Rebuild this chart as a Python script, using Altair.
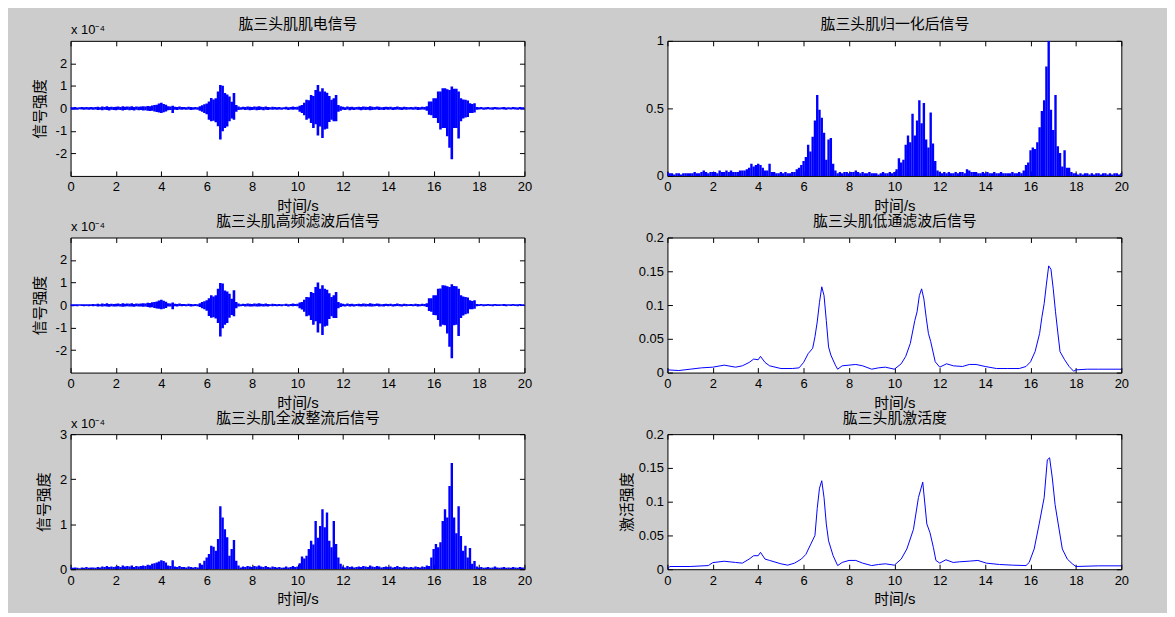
import altair as alt
import pandas as pd

# ---------------- data ----------------
# sample times of the dense EMG traces, one sample every 0.1 s from 0 to 20 s
T = [round(0.1 * i, 1) for i in range(201)]

# panel 1: raw EMG, upper / lower envelope per 0.1 s (x 1e-4)
RAW_HI = [
    0.06, 0.05, 0.06, 0.04, 0.05, 0.06, 0.05, 0.06, 0.05, 0.06,
    0.05, 0.06, 0.07, 0.05, 0.08, 0.06, 0.09, 0.06, 0.07, 0.06,
    0.07, 0.08, 0.06, 0.09, 0.07, 0.08, 0.07, 0.09, 0.06, 0.08,
    0.07, 0.08, 0.09, 0.08, 0.11, 0.10, 0.13, 0.15, 0.16, 0.22,
    0.25, 0.20, 0.16, 0.09, 0.08, 0.12, 0.07, 0.06, 0.08, 0.06,
    0.06, 0.05, 0.07, 0.06, 0.05, 0.06, 0.05, 0.09, 0.14, 0.18,
    0.22, 0.31, 0.46, 0.40, 0.45, 0.75, 1.04, 1.01, 0.68, 0.62,
    0.53, 0.30, 0.68, 0.15, 0.08, 0.05, 0.07, 0.06, 0.08, 0.07,
    0.06, 0.08, 0.07, 0.09, 0.07, 0.06, 0.08, 0.06, 0.05, 0.07,
    0.06, 0.05, 0.06, 0.04, 0.05, 0.07, 0.05, 0.06, 0.08, 0.06,
    0.07, 0.12, 0.15, 0.25, 0.38, 0.36, 0.60, 0.55, 0.82, 1.04,
    0.75, 0.90, 0.75, 0.70, 0.55, 0.38, 0.45, 0.60, 0.15, 0.10,
    0.07, 0.05, 0.08, 0.06, 0.07, 0.05, 0.06, 0.07, 0.06, 0.08,
    0.07, 0.06, 0.09, 0.07, 0.06, 0.08, 0.07, 0.05, 0.06, 0.07,
    0.06, 0.07, 0.05, 0.06, 0.08, 0.06, 0.05, 0.07, 0.06, 0.05,
    0.06, 0.05, 0.07, 0.06, 0.05, 0.07, 0.06, 0.09, 0.31, 0.31,
    0.45, 0.45, 0.75, 0.75, 0.90, 0.90, 0.85, 0.82, 0.97, 0.87,
    0.87, 0.75, 0.45, 0.40, 0.38, 0.35, 0.23, 0.20, 0.23, 0.06,
    0.05, 0.06, 0.04, 0.05, 0.06, 0.04, 0.05, 0.06, 0.05, 0.04,
    0.05, 0.06, 0.04, 0.05, 0.04, 0.06, 0.05, 0.04, 0.06, 0.05,
    0.05,
]
RAW_LO = [
    -0.05, -0.06, -0.05, -0.06, -0.04, -0.05, -0.06, -0.05, -0.06, -0.05,
    -0.06, -0.05, -0.07, -0.06, -0.08, -0.06, -0.07, -0.09, -0.06, -0.07,
    -0.08, -0.06, -0.07, -0.09, -0.07, -0.06, -0.08, -0.07, -0.09, -0.06,
    -0.08, -0.07, -0.09, -0.08, -0.10, -0.12, -0.11, -0.14, -0.16, -0.18,
    -0.20, -0.17, -0.14, -0.08, -0.07, -0.20, -0.06, -0.07, -0.05, -0.06,
    -0.05, -0.06, -0.05, -0.07, -0.06, -0.05, -0.06, -0.10, -0.15, -0.20,
    -0.26, -0.50, -0.57, -0.55, -0.62, -0.79, -1.38, -1.01, -0.87, -0.80,
    -0.57, -0.45, -0.50, -0.15, -0.07, -0.06, -0.05, -0.07, -0.06, -0.08,
    -0.07, -0.06, -0.08, -0.07, -0.06, -0.08, -0.06, -0.07, -0.05, -0.06,
    -0.05, -0.06, -0.05, -0.06, -0.04, -0.05, -0.07, -0.05, -0.06, -0.05,
    -0.06, -0.15, -0.20, -0.30, -0.50, -0.45, -0.65, -0.87, -0.70, -1.20,
    -0.80, -1.31, -0.94, -0.90, -0.60, -0.50, -0.57, -0.57, -0.15, -0.10,
    -0.06, -0.07, -0.05, -0.08, -0.06, -0.07, -0.05, -0.06, -0.08, -0.06,
    -0.07, -0.06, -0.08, -0.07, -0.06, -0.05, -0.07, -0.06, -0.07, -0.05,
    -0.06, -0.05, -0.07, -0.06, -0.05, -0.06, -0.07, -0.05, -0.06, -0.05,
    -0.05, -0.06, -0.05, -0.07, -0.06, -0.05, -0.06, -0.10, -0.28, -0.30,
    -0.43, -0.43, -0.65, -0.94, -0.87, -0.87, -1.24, -1.75, -2.26, -0.87,
    -0.87, -1.34, -0.57, -0.45, -0.40, -0.38, -0.20, -0.20, -0.18, -0.06,
    -0.05, -0.04, -0.06, -0.05, -0.04, -0.05, -0.06, -0.04, -0.05, -0.05,
    -0.04, -0.05, -0.06, -0.04, -0.05, -0.04, -0.05, -0.06, -0.04, -0.05,
    -0.05,
]

# panel 2: high-pass filtered EMG, upper / lower envelope (x 1e-4)
HP_HI = [
    0.04, 0.03, 0.04, 0.03, 0.04, 0.03, 0.04, 0.03, 0.04, 0.04,
    0.05, 0.04, 0.06, 0.04, 0.07, 0.05, 0.08, 0.05, 0.06, 0.05,
    0.06, 0.07, 0.05, 0.08, 0.06, 0.07, 0.06, 0.08, 0.05, 0.07,
    0.06, 0.07, 0.08, 0.07, 0.10, 0.09, 0.12, 0.14, 0.16, 0.20,
    0.23, 0.19, 0.15, 0.08, 0.07, 0.11, 0.06, 0.05, 0.07, 0.05,
    0.05, 0.04, 0.06, 0.05, 0.04, 0.05, 0.04, 0.08, 0.13, 0.17,
    0.21, 0.30, 0.44, 0.38, 0.43, 0.72, 0.98, 0.96, 0.65, 0.60,
    0.50, 0.28, 0.66, 0.13, 0.07, 0.04, 0.06, 0.05, 0.07, 0.06,
    0.05, 0.07, 0.06, 0.08, 0.06, 0.05, 0.07, 0.05, 0.04, 0.06,
    0.05, 0.04, 0.05, 0.03, 0.04, 0.06, 0.04, 0.05, 0.07, 0.05,
    0.06, 0.11, 0.14, 0.24, 0.36, 0.35, 0.58, 0.53, 0.80, 1.00,
    0.72, 0.88, 0.72, 0.68, 0.52, 0.36, 0.43, 0.58, 0.14, 0.08,
    0.06, 0.04, 0.07, 0.05, 0.06, 0.04, 0.05, 0.06, 0.05, 0.07,
    0.06, 0.05, 0.08, 0.06, 0.05, 0.07, 0.06, 0.04, 0.05, 0.06,
    0.05, 0.06, 0.04, 0.05, 0.07, 0.05, 0.04, 0.06, 0.05, 0.04,
    0.05, 0.04, 0.06, 0.05, 0.04, 0.06, 0.05, 0.08, 0.30, 0.30,
    0.43, 0.44, 0.72, 0.73, 0.88, 0.87, 0.83, 0.80, 0.92, 0.85,
    0.84, 0.72, 0.43, 0.38, 0.36, 0.33, 0.21, 0.18, 0.21, 0.05,
    0.04, 0.05, 0.03, 0.04, 0.05, 0.03, 0.04, 0.05, 0.04, 0.03,
    0.04, 0.05, 0.03, 0.04, 0.03, 0.05, 0.04, 0.03, 0.05, 0.04,
    0.04,
]
HP_LO = [
    -0.04, -0.05, -0.04, -0.05, -0.03, -0.04, -0.05, -0.04, -0.05, -0.04,
    -0.05, -0.04, -0.06, -0.05, -0.07, -0.05, -0.06, -0.08, -0.05, -0.06,
    -0.07, -0.05, -0.06, -0.08, -0.06, -0.05, -0.07, -0.06, -0.08, -0.05,
    -0.07, -0.06, -0.08, -0.07, -0.09, -0.11, -0.10, -0.13, -0.15, -0.17,
    -0.19, -0.16, -0.13, -0.07, -0.06, -0.19, -0.05, -0.06, -0.04, -0.05,
    -0.04, -0.05, -0.04, -0.06, -0.05, -0.04, -0.05, -0.09, -0.14, -0.19,
    -0.25, -0.49, -0.56, -0.54, -0.60, -0.80, -1.40, -1.03, -0.88, -0.80,
    -0.56, -0.44, -0.50, -0.14, -0.06, -0.05, -0.04, -0.06, -0.05, -0.07,
    -0.06, -0.05, -0.07, -0.06, -0.05, -0.07, -0.05, -0.06, -0.04, -0.05,
    -0.04, -0.05, -0.04, -0.05, -0.03, -0.04, -0.06, -0.04, -0.05, -0.04,
    -0.05, -0.14, -0.20, -0.30, -0.50, -0.46, -0.66, -0.88, -0.72, -1.22,
    -0.82, -1.33, -0.95, -0.92, -0.62, -0.50, -0.58, -0.58, -0.14, -0.09,
    -0.05, -0.06, -0.04, -0.07, -0.05, -0.06, -0.04, -0.05, -0.07, -0.05,
    -0.06, -0.05, -0.07, -0.06, -0.05, -0.04, -0.06, -0.05, -0.06, -0.04,
    -0.05, -0.04, -0.06, -0.05, -0.04, -0.05, -0.06, -0.04, -0.05, -0.04,
    -0.04, -0.05, -0.04, -0.06, -0.05, -0.04, -0.05, -0.09, -0.27, -0.30,
    -0.44, -0.45, -0.66, -0.95, -0.88, -0.90, -1.26, -1.85, -2.36, -0.90,
    -0.88, -1.38, -0.58, -0.46, -0.41, -0.38, -0.19, -0.19, -0.17, -0.05,
    -0.04, -0.03, -0.05, -0.04, -0.03, -0.04, -0.05, -0.03, -0.04, -0.04,
    -0.03, -0.04, -0.05, -0.03, -0.04, -0.03, -0.04, -0.05, -0.03, -0.04,
    -0.04,
]

# panel 3: full-wave rectified EMG (x 1e-4)
RECT = [
    0.05, 0.03, 0.04, 0.03, 0.02, 0.04, 0.03, 0.05, 0.03, 0.04,
    0.04, 0.03, 0.05, 0.04, 0.06, 0.05, 0.07, 0.05, 0.06, 0.05,
    0.06, 0.07, 0.05, 0.08, 0.06, 0.07, 0.06, 0.08, 0.05, 0.07,
    0.06, 0.07, 0.08, 0.07, 0.10, 0.09, 0.12, 0.13, 0.15, 0.17,
    0.20, 0.18, 0.15, 0.08, 0.07, 0.20, 0.06, 0.05, 0.07, 0.05,
    0.05, 0.04, 0.06, 0.05, 0.04, 0.05, 0.04, 0.13, 0.10, 0.19,
    0.26, 0.34, 0.52, 0.50, 0.41, 0.67, 1.40, 1.15, 0.89, 0.71,
    0.30, 0.45, 0.65, 0.19, 0.08, 0.04, 0.06, 0.05, 0.07, 0.06,
    0.05, 0.07, 0.06, 0.08, 0.06, 0.05, 0.07, 0.05, 0.04, 0.06,
    0.05, 0.04, 0.05, 0.03, 0.04, 0.06, 0.04, 0.05, 0.07, 0.05,
    0.06, 0.13, 0.28, 0.24, 0.30, 0.45, 0.63, 0.55, 1.07, 0.70,
    0.96, 1.33, 0.93, 1.26, 0.63, 0.49, 1.07, 0.56, 0.26, 0.12,
    0.06, 0.04, 0.07, 0.05, 0.06, 0.04, 0.05, 0.06, 0.05, 0.07,
    0.06, 0.05, 0.08, 0.06, 0.05, 0.07, 0.06, 0.04, 0.05, 0.06,
    0.05, 0.06, 0.04, 0.05, 0.07, 0.05, 0.04, 0.06, 0.05, 0.04,
    0.05, 0.04, 0.06, 0.05, 0.04, 0.06, 0.05, 0.08, 0.07, 0.26,
    0.45, 0.56, 0.49, 0.60, 1.07, 1.33, 1.15, 1.85, 2.36, 1.15,
    0.80, 1.40, 0.74, 0.41, 0.52, 0.26, 0.47, 0.12, 0.18, 0.06,
    0.04, 0.05, 0.03, 0.04, 0.05, 0.03, 0.04, 0.06, 0.04, 0.03,
    0.04, 0.05, 0.03, 0.04, 0.03, 0.05, 0.04, 0.03, 0.05, 0.04,
    0.04,
]

# panel 4: normalised rectified EMG
NORM = [
    0.03, 0.02, 0.02, 0.01, 0.02, 0.02, 0.01, 0.02, 0.02, 0.02,
    0.02, 0.02, 0.03, 0.02, 0.02, 0.03, 0.04, 0.03, 0.02, 0.03,
    0.03, 0.03, 0.02, 0.04, 0.03, 0.03, 0.04, 0.03, 0.04, 0.03,
    0.03, 0.03, 0.04, 0.04, 0.04, 0.05, 0.06, 0.09, 0.07, 0.08,
    0.09, 0.08, 0.06, 0.04, 0.04, 0.09, 0.03, 0.03, 0.02, 0.02,
    0.03, 0.02, 0.03, 0.02, 0.02, 0.03, 0.03, 0.05, 0.06, 0.08,
    0.11, 0.14, 0.23, 0.18, 0.29, 0.41, 0.60, 0.49, 0.43, 0.32,
    0.12, 0.27, 0.28, 0.09, 0.04, 0.02, 0.03, 0.02, 0.03, 0.03,
    0.02, 0.03, 0.03, 0.04, 0.03, 0.02, 0.03, 0.02, 0.02, 0.03,
    0.02, 0.02, 0.02, 0.01, 0.02, 0.03, 0.02, 0.02, 0.03, 0.02,
    0.03, 0.05, 0.13, 0.10, 0.12, 0.23, 0.30, 0.25, 0.46, 0.30,
    0.41, 0.56, 0.39, 0.54, 0.27, 0.21, 0.47, 0.24, 0.11, 0.04,
    0.03, 0.02, 0.03, 0.02, 0.03, 0.02, 0.02, 0.03, 0.02, 0.03,
    0.03, 0.02, 0.05, 0.04, 0.03, 0.03, 0.03, 0.02, 0.02, 0.03,
    0.02, 0.03, 0.02, 0.02, 0.03, 0.02, 0.02, 0.03, 0.02, 0.02,
    0.02, 0.02, 0.03, 0.02, 0.02, 0.03, 0.02, 0.04, 0.08, 0.10,
    0.19, 0.21, 0.20, 0.25, 0.36, 0.48, 0.56, 0.81, 1.00, 0.49,
    0.34, 0.60, 0.22, 0.17, 0.07, 0.19, 0.06, 0.06, 0.03, 0.02,
    0.02, 0.01, 0.02, 0.01, 0.02, 0.02, 0.01, 0.02, 0.01, 0.02,
    0.02, 0.01, 0.02, 0.02, 0.01, 0.02, 0.01, 0.02, 0.02, 0.01,
    0.02,
]

# panel 5: low-pass filtered envelope
LP_T = [0, 0.5, 1, 1.5, 2, 2.5, 3, 3.3, 3.6, 3.8, 4.0, 4.1, 4.3, 4.5, 5.0, 5.5, 5.8,
        6.0, 6.2, 6.4, 6.5, 6.6, 6.7, 6.8, 6.9, 7.0, 7.1, 7.2, 7.4, 7.5, 7.7, 8.0,
        8.3, 8.6, 9.0, 9.3, 9.6, 10.0, 10.3, 10.5, 10.7, 10.9, 11.0, 11.1, 11.2,
        11.3, 11.4, 11.5, 11.6, 11.8, 12.0, 12.3, 12.6, 13.0, 13.3, 13.6, 14.0,
        14.5, 15.0, 15.5, 15.8, 16.0, 16.2, 16.4, 16.5, 16.6, 16.7, 16.8, 16.9,
        17.0, 17.1, 17.2, 17.3, 17.5, 17.7, 17.9, 18.0, 18.5, 19.0, 19.5, 20.0]
LP_V = [0.004, 0.003, 0.005, 0.007, 0.008, 0.011, 0.008, 0.010, 0.015, 0.020, 0.019,
        0.024, 0.015, 0.010, 0.006, 0.006, 0.007, 0.015, 0.028, 0.036, 0.053, 0.075,
        0.104, 0.127, 0.114, 0.077, 0.038, 0.026, 0.011, 0.005, 0.010, 0.011, 0.012,
        0.010, 0.005, 0.007, 0.008, 0.005, 0.013, 0.024, 0.043, 0.077, 0.090, 0.114,
        0.124, 0.109, 0.082, 0.058, 0.046, 0.016, 0.008, 0.013, 0.010, 0.009, 0.012,
        0.012, 0.009, 0.006, 0.006, 0.006, 0.009, 0.016, 0.031, 0.058, 0.082, 0.102,
        0.131, 0.158, 0.153, 0.124, 0.090, 0.060, 0.031, 0.019, 0.009, 0.002, 0.004,
        0.005, 0.005, 0.005, 0.005]

# panel 6: muscle activation
ACT_T = [0, 0.1, 1.0, 1.8, 2.0, 2.5, 3.0, 3.3, 3.6, 3.8, 4.0, 4.1, 4.3, 4.5, 5.0,
         5.3, 5.6, 5.9, 6.1, 6.3, 6.5, 6.6, 6.7, 6.8, 6.9, 7.0, 7.1, 7.3, 7.5, 7.7,
         8.0, 8.3, 8.6, 9.0, 9.3, 9.6, 10.0, 10.3, 10.55, 10.84, 11.06, 11.25, 11.43,
         11.57, 11.72, 11.83, 12.0, 12.27, 12.59, 12.88, 13.32, 13.68, 14.05, 14.63,
         15.21, 15.8, 15.94, 16.16, 16.38, 16.6, 16.74, 16.84, 16.96, 17.08, 17.22,
         17.4, 17.62, 17.84, 18.0, 19.0, 20.0]
ACT_V = [0.0, 0.004, 0.004, 0.0054, 0.0098, 0.0118, 0.010, 0.009, 0.015, 0.020, 0.020,
         0.025, 0.015, 0.013, 0.008, 0.006, 0.009, 0.015, 0.022, 0.036, 0.050, 0.090,
         0.120, 0.131, 0.106, 0.067, 0.042, 0.020, 0.0054, 0.010, 0.013, 0.013, 0.009,
         0.0054, 0.007, 0.008, 0.006, 0.015, 0.030, 0.059, 0.106, 0.129, 0.067, 0.054,
         0.032, 0.013, 0.009, 0.014, 0.010, 0.011, 0.012, 0.013, 0.009, 0.007, 0.006,
         0.0054, 0.010, 0.030, 0.067, 0.106, 0.162, 0.165, 0.135, 0.096, 0.067, 0.030,
         0.015, 0.008, 0.004, 0.005, 0.005]

X_TICKS = [0, 2, 4, 6, 8, 10, 12, 14, 16, 18, 20]
TITLES = ["肱三头肌肌电信号", "肱三头肌高频滤波后信号", "肱三头肌全波整流后信号",
          "肱三头肌归一化后信号", "肱三头肌低通滤波后信号", "肱三头肌激活度"]

# ---------------- styling ----------------
FONT = "Liberation Sans, Arial, Noto Sans CJK SC"
BLUE = "#0000ff"
W, H = 457, 136
OFF = -5  # axes pulled inside the box so ticks point inward (MATLAB style)
LABEL_EXPR = "datum.value < 0 ? '-' + abs(datum.value) : '' + datum.value"


def axes(ydom, yticks, title, ytitle, ytitle_x, expo):
    xs = alt.Scale(domain=[0, 20], nice=False, zero=False)
    ys = alt.Scale(domain=ydom, nice=False, zero=False)
    bottom = alt.Axis(orient="bottom", values=X_TICKS, labelExpr=LABEL_EXPR,
                      offset=OFF, tickSize=5, domain=False, grid=False,
                      labelPadding=5, labelFlush=False, labelOverlap=False,
                      title="时间/s", titleX=W / 2, titleY=40, titleAlign="center",
                      titleBaseline="alphabetic")
    left_kw = dict(orient="left", values=yticks, labelExpr=LABEL_EXPR, offset=OFF,
                   tickSize=5, domain=False, grid=False, labelPadding=4,
                   labelFlush=False, labelOverlap=False)
    if ytitle:
        left_kw.update(title=ytitle, titleAngle=270, titleX=ytitle_x, titleY=H / 2,
                       titleAlign="center", titleBaseline="middle")
    else:
        left_kw.update(title=None)
    left = alt.Axis(**left_kw)
    top = alt.Axis(orient="top", values=X_TICKS, labels=False, offset=OFF, tickSize=5,
                   domain=False, grid=False, title=title, titleX=W / 2, titleY=-17,
                   titleAlign="center", titleBaseline="alphabetic")
    right_kw = dict(orient="right", values=yticks, labels=False, offset=OFF,
                    tickSize=5, domain=False, grid=False)
    if expo:
        right_kw.update(title=expo, titleAngle=0, titleX=-(W + OFF), titleY=-7,
                        titleAlign="left", titleBaseline="alphabetic", titleFontSize=13)
    else:
        right_kw.update(title=None)
    right = alt.Axis(**right_kw)
    return xs, ys, bottom, left, top, right


def dense_panel(times, lo, hi, ydom, yticks, title, ytitle=None, ytitle_x=0,
                expo=None, sw=2.6):
    df = pd.DataFrame({"t": times, "lo": lo, "hi": hi})
    xs, ys, bottom, left, top, right = axes(ydom, yticks, title, ytitle, ytitle_x, expo)
    main = alt.Chart(df).mark_rule(color=BLUE, strokeWidth=sw, clip=True).encode(
        x=alt.X("t:Q", scale=xs, axis=bottom),
        y=alt.Y("lo:Q", scale=ys, axis=left),
        y2="hi:Q",
    )
    ghost = alt.Chart(df).mark_point(opacity=0).encode(
        x=alt.X("t:Q", scale=xs, axis=top),
        y=alt.Y("lo:Q", scale=ys, axis=right),
    )
    return alt.layer(main, ghost).resolve_axis(x="independent", y="independent") \
        .properties(width=W, height=H)


def line_panel(times, vals, ydom, yticks, title, ytitle=None, ytitle_x=0):
    df = pd.DataFrame({"t": times, "v": vals})
    xs, ys, bottom, left, top, right = axes(ydom, yticks, title, ytitle, ytitle_x, None)
    main = alt.Chart(df).mark_line(color=BLUE, strokeWidth=1, clip=True).encode(
        x=alt.X("t:Q", scale=xs, axis=bottom),
        y=alt.Y("v:Q", scale=ys, axis=left),
    )
    ghost = alt.Chart(df).mark_point(opacity=0).encode(
        x=alt.X("t:Q", scale=xs, axis=top),
        y=alt.Y("v:Q", scale=ys, axis=right),
    )
    return alt.layer(main, ghost).resolve_axis(x="independent", y="independent") \
        .properties(width=W, height=H)


EXPO = "x 10\u207b\u2074"
zeros = [0.0] * len(T)

p1 = dense_panel(T, RAW_LO, RAW_HI, [-3, 3], [-2, -1, 0, 1, 2], TITLES[0],
                 "信号强度", -36.5, EXPO)
p2 = dense_panel(T, HP_LO, HP_HI, [-3, 3], [-2, -1, 0, 1, 2], TITLES[1],
                 "信号强度", -36.5, EXPO)
p3 = dense_panel(T, zeros, RECT, [0, 3], [0, 1, 2, 3], TITLES[2],
                 "信号强度", -32.7, EXPO, sw=2.4)
p4 = dense_panel(T, zeros, NORM, [0, 1], [0, 0.5, 1], TITLES[3], sw=2.4)
p5 = line_panel(LP_T, LP_V, [0, 0.2], [0, 0.05, 0.1, 0.15, 0.2], TITLES[4])
p6 = line_panel(ACT_T, ACT_V, [0, 0.2], [0, 0.05, 0.1, 0.15, 0.2], TITLES[5],
                "激活强度", -46)

chart = alt.concat(
    p1, p4, p2, p5, p3, p6, columns=2,
    spacing={"row": 62, "column": 144}, bounds="flush"
).properties(
    padding={"left": 24, "top": 6, "right": 38, "bottom": 3}
).configure(
    background="#cccccc", font=FONT
).configure_view(
    stroke="black", strokeWidth=1, fill="white"
).configure_axis(
    labelFont=FONT, labelFontSize=13, labelColor="black", tickColor="black",
    tickWidth=1, titleFont=FONT, titleFontSize=15, titleColor="black",
    titleFontWeight="normal"
)

chart.save("out.html", embed_options={"renderer": "svg", "actions": False})
